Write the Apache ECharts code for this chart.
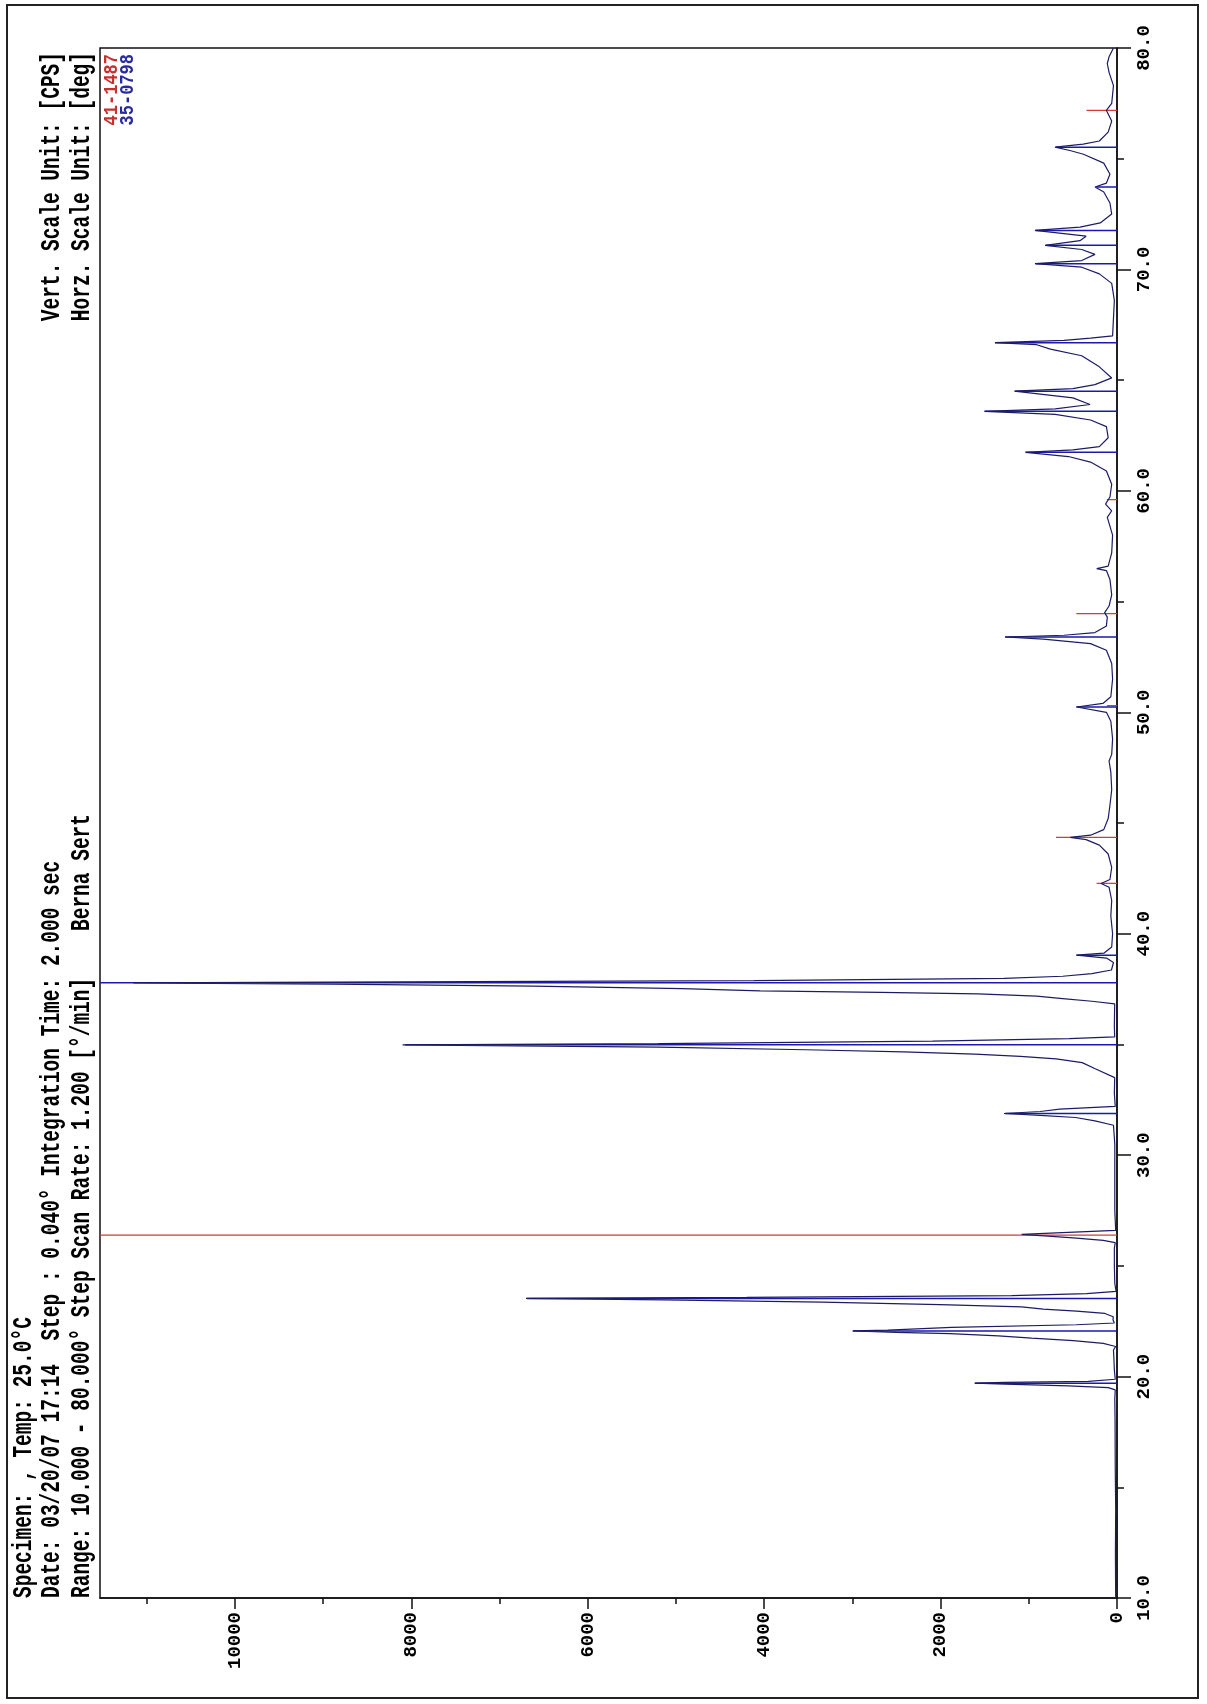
<!DOCTYPE html>
<html>
<head>
<meta charset="utf-8">
<script src="https://cdn.jsdelivr.net/npm/echarts@6/dist/echarts.min.js"></script>
<style>
  html, body { margin: 0; padding: 0; background: #fff; }
  #chart { width: 1207px; height: 1704px; }
</style>
</head>
<body>
<div id="chart"></div>
<script>
const scanAngle = [
  10.0, 12.0, 14.0, 16.0, 18.0, 19.0, 19.40, 19.50, 19.58, 19.66, 19.70, 19.74, 19.78, 19.88,
  20.3, 20.8, 21.2, 21.36, 21.50, 21.62, 21.74, 21.84, 21.94, 22.00, 22.06, 22.10, 22.22, 22.34, 22.42,
  22.55, 22.70, 22.85, 22.96, 23.05, 23.15, 23.25, 23.36, 23.46, 23.53, 23.58, 23.66, 23.75, 23.85,
  24.2, 25.0, 25.8, 26.05, 26.15, 26.25, 26.33, 26.42, 26.50, 26.60,
  27.5, 29.0, 30.5, 31.35, 31.55, 31.70, 31.80, 31.88, 31.97, 32.08, 32.20, 32.8,
  33.5, 33.9, 34.18, 34.35, 34.46, 34.56, 34.66, 34.76, 34.88, 34.98, 35.04, 35.15, 35.26, 35.34,
  35.8, 36.4, 36.83, 36.95, 37.07, 37.18, 37.28, 37.35, 37.42, 37.52, 37.63, 37.72, 37.78, 37.81,
  37.88, 37.98, 38.08, 38.20, 38.36, 38.7, 38.9, 39.03, 39.12, 39.4, 40.0, 40.8, 41.5, 42.1, 42.27,
  42.45, 43.0, 43.6, 44.0, 44.25, 44.35, 44.45, 44.7, 45.2, 45.8, 46.5, 47.3, 47.8, 48.1, 48.8,
  49.6, 50.0, 50.24, 50.40, 50.7, 51.5, 52.2, 52.8, 53.1, 53.3, 53.40, 53.48, 53.6, 53.9, 54.3,
  54.5, 54.8, 55.3, 56.0, 56.4, 56.49, 56.6, 57.2, 58.0, 58.8, 59.1, 59.4, 59.72, 60.3, 60.9,
  61.3, 61.55, 61.74, 61.85, 62.0, 62.4, 62.9, 63.2, 63.45, 63.59, 63.7, 63.9, 64.2, 64.50, 64.62,
  64.8, 65.1, 65.6, 66.1, 66.4, 66.6, 66.69, 66.8, 66.9, 67.0, 67.8, 68.6, 69.37, 69.8, 70.1,
  70.26, 70.4, 70.68, 70.9, 71.09, 71.3, 71.5, 71.76, 71.91, 72.1, 72.5, 73.0, 73.5, 73.72, 73.9,
  74.3, 74.8, 75.2, 75.37, 75.52, 75.66, 75.8, 76.2, 76.7, 77.18, 77.5, 78.3, 78.9, 79.3, 79.6, 80.0
];
const scanCounts = [
  15, 18, 15, 20, 22, 25, 20, 98, 551, 1270, 1610, 1270, 324, 20,
  30, 35, 40, 15, 156, 495, 968, 1346, 1894, 2500, 2990, 2600, 1875, 460, 30,
  45, 43, 137, 458, 836, 1081, 2007, 3349, 5144, 6700, 4199, 1195, 345, 10,
  25, 30, 30, 20, 156, 458, 740, 1081, 620, 15,
  25, 25, 25, 40, 250, 470, 870, 1280, 870, 650, 20, 30,
  26, 247, 395, 690, 1096, 1612, 2423, 3529, 5200, 8100, 5200, 2091, 542, 26,
  30, 28, 26, 284, 616, 911, 1575, 2681, 4045, 4930, 6626, 8900, 11150, 8900,
  4119, 1280, 616, 284, 63, 40, 120, 457, 150, 60, 50, 70, 60, 90, 180,
  80, 60, 100, 200, 350, 530, 300, 150, 100, 80, 60, 70, 90, 60, 50,
  70, 120, 457, 160, 70, 50, 60, 120, 300, 835, 1270, 600, 250, 120, 110,
  140, 90, 60, 80, 120, 230, 100, 60, 50, 110, 60, 130, 80, 60, 120,
  300, 550, 1036, 500, 200, 100, 120, 300, 700, 1504, 700, 306, 500, 1164, 500,
  250, 60, 200, 400, 755, 910, 1383, 600, 300, 50, 40, 30, 60, 200, 400,
  930, 400, 250, 400, 815, 420, 350, 930, 420, 190, 60, 80, 150, 249, 120,
  80, 150, 380, 534, 703, 383, 200, 100, 60, 120, 60, 40, 90, 110, 90, 40
];

// reference card 35-0798 (blue): 2theta and relative intensity [% of full scale]
const card35Angle = [19.70, 22.06, 23.53, 31.88, 34.98, 37.78, 39.03, 50.24, 53.40, 61.74, 63.59, 64.50, 66.69, 70.26, 71.09, 71.76, 73.72, 75.52];
const card35Rel = [14, 26, 58, 11, 70, 100, 4, 4, 11, 9, 13, 10, 12, 8, 7, 8, 2, 6];
// reference card 41-1487 (red)
const card41Angle = [26.39, 42.27, 44.35, 50.30, 54.46, 59.60, 77.18];
const card41Rel = [100, 2, 6, 1, 4, 1, 3];

const fullScale = 11530;
const countLabels = [0, 2000, 4000, 6000, 8000, 10000];
const countMinor = [1000, 3000, 5000, 7000, 9000, 11000];

const FONT = '"Liberation Mono", "DejaVu Sans Mono", monospace';

function sticks(angles, rel) {
  const out = [];
  angles.forEach((a, i) => {
    out.push([0, a], [rel[i] / 100 * fullScale, a], ['-', '-']);
  });
  return out;
}

const chart = echarts.init(document.getElementById('chart'));

const headerText = (x, y, text, align, color, size, stretch) => ({
  type: 'text',
  x: x, y: y,
  rotation: Math.PI / 2,
  scaleY: stretch || 1.45,
  silent: true,
  style: {
    text: text,
    font: 'bold ' + (size || 19.5) + 'px ' + FONT,
    fill: color || '#000',
    align: align || 'left',
    verticalAlign: 'middle'
  }
});

const option = {
  animation: false,
  backgroundColor: '#fff',
  grid: {
    left: 100, top: 48, width: 1017, height: 1550,
    show: true, borderColor: '#111', borderWidth: 1.5, backgroundColor: 'transparent'
  },
  xAxis: [
    {
      type: 'value', min: 0, max: fullScale, inverse: true, position: 'bottom',
      axisLine: { lineStyle: { color: '#111', width: 1.5 } },
      axisTick: { customValues: countLabels, length: 11, lineStyle: { color: '#111', width: 1.5 } },
      axisLabel: {
        customValues: countLabels, rotate: 90, margin: 14,
        fontFamily: FONT, fontWeight: 'bold', fontSize: 19, color: '#000',
        formatter: v => String(v)
      },
      splitLine: { show: false }
    },
    {
      type: 'value', min: 0, max: fullScale, inverse: true, position: 'bottom',
      axisLine: { show: false },
      axisTick: { customValues: countMinor, length: 6, lineStyle: { color: '#111', width: 1.5 } },
      axisLabel: { show: false },
      splitLine: { show: false }
    }
  ],
  yAxis: {
    type: 'value', min: 10, max: 80, interval: 10, position: 'right',
    axisLine: { lineStyle: { color: '#111', width: 1.5 } },
    axisTick: { length: 14, lineStyle: { color: '#111', width: 1.5 } },
    minorTick: { show: true, splitNumber: 2, length: 7, lineStyle: { color: '#111', width: 1.5 } },
    axisLabel: {
      rotate: 90, margin: 18,
      fontFamily: FONT, fontWeight: 'bold', fontSize: 19, color: '#000',
      formatter: v => v.toFixed(1)
    },
    splitLine: { show: false }
  },
  series: [
    {
      name: '41-1487', type: 'line', xAxisIndex: 0,
      data: sticks(card41Angle, card41Rel),
      showSymbol: false, connectNulls: false,
      lineStyle: { color: '#d43a3a', width: 1.2 }
    },
    {
      name: '35-0798', type: 'line', xAxisIndex: 0,
      data: sticks(card35Angle, card35Rel),
      showSymbol: false, connectNulls: false,
      lineStyle: { color: '#1a1ab0', width: 1.5 }
    },
    {
      name: 'scan', type: 'line', xAxisIndex: 0,
      data: scanAngle.map((a, i) => [scanCounts[i], a]),
      showSymbol: false,
      lineStyle: { color: '#1c1c66', width: 1.2 }
    }
  ],
  graphic: [
    {
      type: 'rect', silent: true,
      shape: { x: 7, y: 5, width: 1191, height: 1693 },
      style: { fill: 'none', stroke: '#222', lineWidth: 2 }
    },
    headerText(24, 1598, 'Specimen: , Temp: 25.0°C'),
    headerText(52, 1598, 'Date: 03/20/07 17:14  Step : 0.040° Integration Time: 2.000 sec'),
    headerText(82, 1598, 'Range: 10.000 - 80.000° Step Scan Rate: 1.200 [°/min]    Berna Sert'),
    headerText(52, 52, 'Vert. Scale Unit: [CPS]', 'right'),
    headerText(82, 52, 'Horz. Scale Unit: [deg]', 'right'),
    headerText(112, 54, '41-1487', 'right', '#c83030', 17, 1.15),
    headerText(128, 54, '35-0798', 'right', '#2a2aa0', 17, 1.15)
  ]
};

chart.setOption(option);
</script>
</body>
</html>
